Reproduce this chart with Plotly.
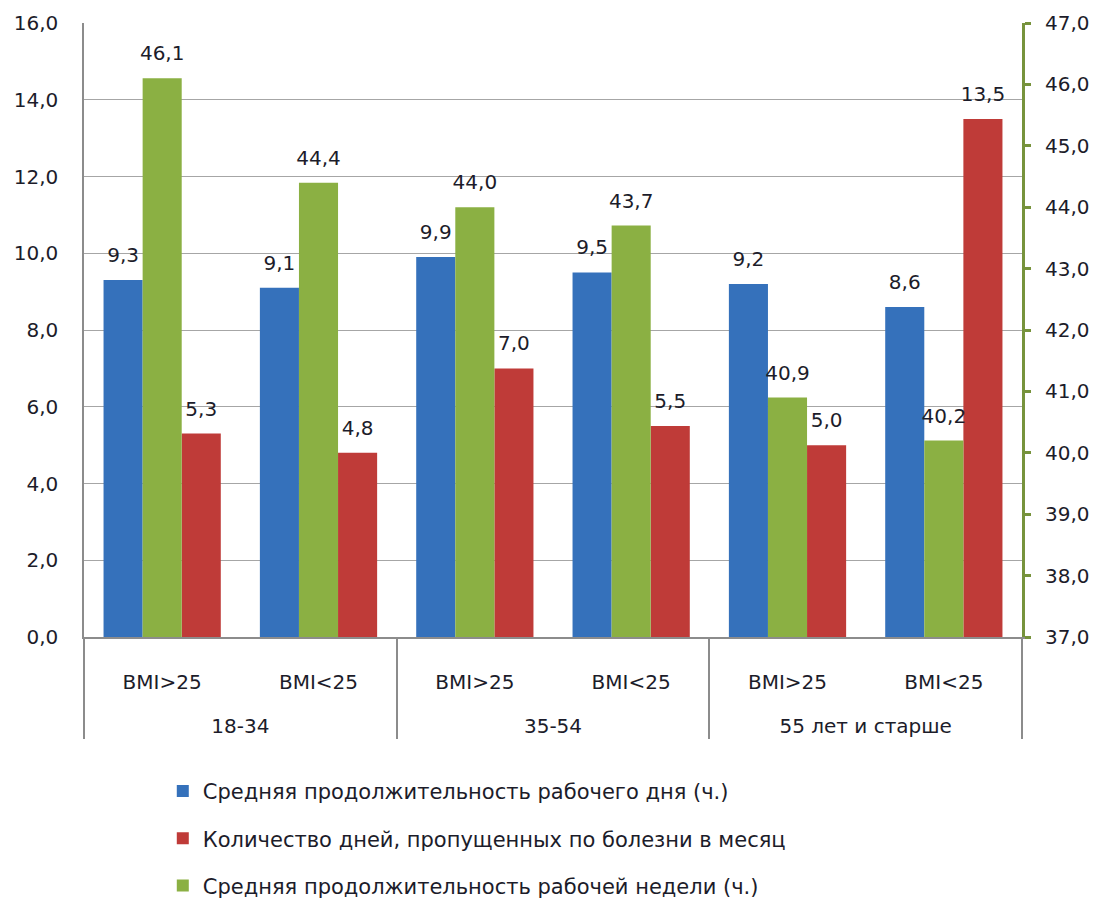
import plotly.graph_objects as go

age_groups = ["18-34", "18-34", "35-54", "35-54", "55 лет и старше", "55 лет и старше"]
bmi_groups = ["BMI>25", "BMI<25", "BMI>25", "BMI<25", "BMI>25", "BMI<25"]

workday_hours = [9.3, 9.1, 9.9, 9.5, 9.2, 8.6]
sick_days = [5.3, 4.8, 7.0, 5.5, 5.0, 13.5]
workweek_hours = [46.1, 44.4, 44.0, 43.7, 40.9, 40.2]

name_day = "Средняя продолжительность рабочего дня (ч.)"
name_sick = "Количество дней, пропущенных по болезни в месяц"
name_week = "Средняя продолжительность рабочей недели (ч.)"

FONT = "DejaVu Sans"
FS = 20
TXT = "#1c1c2a"
# inner category labels get an invisible leading and trailing line so the
# two label rows sit where the reference puts them
HEAD = "<span style='font-size:16px;color:rgba(0,0,0,0)'>.</span><br>"
PAD = "<br><span style='font-size:6px;color:rgba(0,0,0,0)'>.</span>"
bmi_labels = [HEAD + b + PAD for b in bmi_groups]
x = [age_groups, bmi_labels]


def label(field):
    return "<span style='font-size:%dpx'>%%{%s:.1f}</span><br> " % (FS, field)


fig = go.Figure()
w = 0.25
common = dict(width=w, textposition="outside", cliponaxis=False, constraintext="none",
              textfont=dict(size=10, color=TXT, family=FONT), marker_line_width=0)
fig.add_trace(go.Bar(x=x, y=workday_hours, name=name_day, marker_color="#3571bb",
                     offset=-0.375, texttemplate=label("y"), legendgroup="a", yaxis="y",
                     **common))
fig.add_trace(go.Bar(x=x, y=sick_days, name=name_sick, marker_color="#bf3b38",
                     offset=0.125, texttemplate=label("y"), legendgroup="b", yaxis="y",
                     **common))
fig.add_trace(go.Bar(x=x, y=[v - 37 for v in workweek_hours], base=37,
                     customdata=workweek_hours, name=name_week, marker_color="#8bb043",
                     offset=-0.125, texttemplate=label("customdata"), legendgroup="c",
                     yaxis="y2", **common))

fig.update_layout(
    width=1095, height=900,
    margin=dict(l=84, r=73, t=23, b=263, autoexpand=False),
    paper_bgcolor="white", plot_bgcolor="white",
    separators=", ",
    font=dict(family=FONT, size=FS, color=TXT),
    showlegend=True,
    legend=dict(x=0.084, xanchor="left", y=0.1435, yref="container",
                yanchor="top", orientation="v", tracegroupgap=17, itemwidth=30,
                font=dict(size=21, family=FONT, color=TXT), traceorder="grouped"),
    xaxis=dict(type="multicategory", showline=True, linecolor="#8c8c8c", linewidth=1.5,
               showdividers=True, dividercolor="#8c8c8c", dividerwidth=1.5,
               tickfont=dict(size=FS, family=FONT, color=TXT), showgrid=False),
    yaxis=dict(range=[0, 16], dtick=2, tickformat=".1f", showgrid=True, gridcolor="#a6a6a6",
               gridwidth=1, showline=True, linecolor="#8c8c8c", linewidth=1.5, zeroline=False,
               ticks="", ticklabelstandoff=20, tickfont=dict(size=FS, family=FONT, color=TXT)),
    yaxis2=dict(range=[37, 47], dtick=1, tickformat=".1f", overlaying="y", side="right",
                showgrid=False, showline=True, linecolor="#77933c", linewidth=3,
                ticks="outside", ticklen=6, tickwidth=3, tickcolor="#77933c", zeroline=False,
                ticklabelstandoff=10, tickfont=dict(size=FS, family=FONT, color=TXT)),
)

fig.write_html("out.html")
